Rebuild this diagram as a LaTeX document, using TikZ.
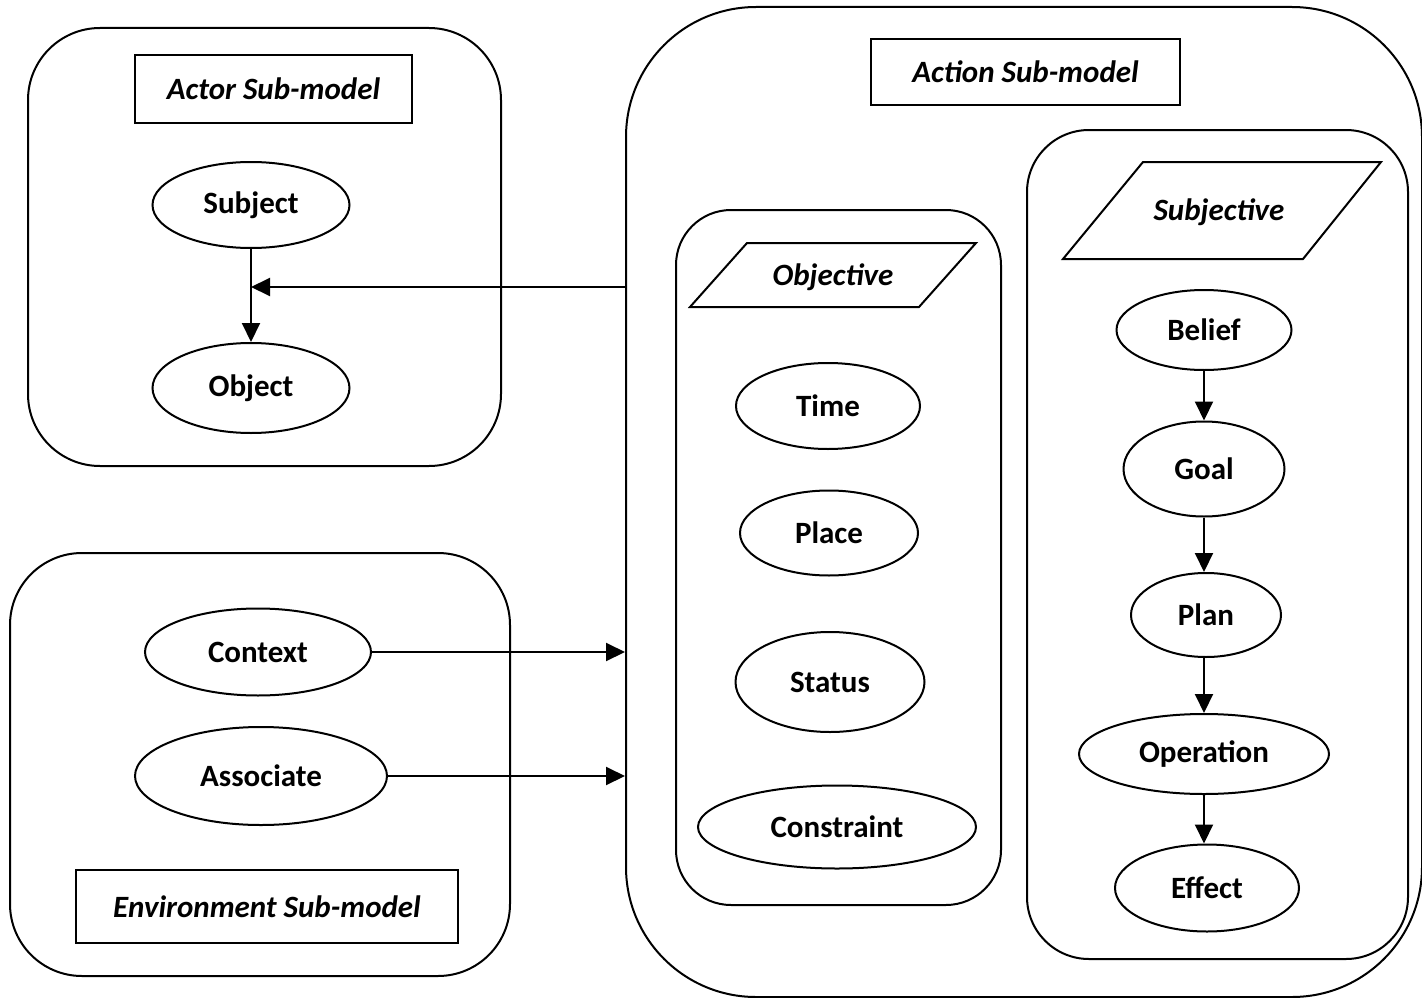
\documentclass[tikz,border=0pt]{standalone}
\usepackage{fontspec}
\setmainfont{Carlito}
\usetikzlibrary{arrows.meta,shapes.geometric}
\begin{document}
\begin{tikzpicture}[x=1pt,y=-1pt,
  line width=2pt,
  every node/.style={font=\fontsize{31}{36}\selectfont\bfseries, inner sep=0pt},
  container/.style={draw, rounded corners=#1},
  container/.default=70pt,
  titlebox/.style={draw, rectangle, font=\fontsize{31}{36}\selectfont\bfseries\itshape},
  item/.style={draw, ellipse},
  category/.style={font=\fontsize{31}{36}\selectfont\bfseries\itshape},
  flow/.style={-{Triangle[length=19pt,width=18pt]}}
]
\useasboundingbox (0,0) rectangle (1422,998);

% Actor sub-model
\node[container=72pt, minimum width=473pt, minimum height=438pt] (actor) at (264.5,247) {};
\node[titlebox, minimum width=277pt, minimum height=68pt] (actorT) at (273.5,89) {Actor Sub-model};
\node[item, minimum width=197pt, minimum height=86pt] (subj) at (251,205) {Subject};
\node[item, minimum width=197pt, minimum height=90pt] (obj) at (251,388) {Object};

% Environment sub-model
\node[container=72pt, minimum width=500pt, minimum height=423pt] (env) at (260,764.5) {};
\node[item, minimum width=226pt, minimum height=87pt] (ctx) at (258,652) {Context};
\node[item, minimum width=252pt, minimum height=98pt] (assoc) at (261,776) {Associate};
\node[titlebox, minimum width=382pt, minimum height=73pt] (envT) at (267,906.5) {Environment Sub-model};

% Action sub-model
\node[container=130pt, minimum width=796pt, minimum height=990pt] (action) at (1024,502) {};
\node[titlebox, minimum width=309pt, minimum height=66pt] (actionT) at (1025.5,72) {Action Sub-model};

% Objective part
\node[container=55pt, minimum width=325pt, minimum height=695pt] (objbox) at (838.5,557.5) {};
\node[category] (objective) at (833,277) {Objective};
\draw[shift={(833,275)}] (-86,-32) -- (143,-32) -- (86,32) -- (-143,32) -- cycle;
\node[item, minimum width=184pt, minimum height=86pt] (time) at (828,406) {Time};
\node[item, minimum width=178pt, minimum height=85pt] (place) at (829,533) {Place};
\node[item, minimum width=189pt, minimum height=100pt] (status) at (830,682) {Status};
\node[item, minimum width=278pt, minimum height=83pt] (constr) at (837,827) {Constraint};

% Subjective part
\node[container=62pt, minimum width=381pt, minimum height=829pt] (subbox) at (1217.5,544.5) {};
\node[category] (subjective) at (1219,212) {Subjective};
\draw[shift={(1222.5,210.5)}] (-79.5,-48.5) -- (158.5,-48.5) -- (80.5,48.5) -- (-159.5,48.5) -- cycle;
\node[item, minimum width=175pt, minimum height=80pt] (belief) at (1204,330) {Belief};
\node[item, minimum width=161pt, minimum height=95pt] (goal) at (1204,469) {Goal};
\node[item, minimum width=150pt, minimum height=84pt] (plan) at (1206,615) {Plan};
\node[item, minimum width=250pt, minimum height=80pt] (oper) at (1204,754) {Operation};
\node[item, minimum width=184pt, minimum height=87pt] (effect) at (1207,888) {Effect};

% Connectors
\draw[flow] (subj) -- (obj);
\coordinate (hit) at (251,287);
\draw[flow] (action.west |- hit) -- (hit);
\draw[flow] (ctx.east) -- (action.west |- ctx.east);
\draw[flow] (assoc.east) -- (action.west |- assoc.east);
\draw[flow] (belief.south) -- (belief.south |- goal.north);
\draw[flow] (goal.south) -- (goal.south |- plan.north);
\draw[flow] (plan.south -| goal.south) -- (goal.south |- oper.north);
\draw[flow] (oper.south) -- (oper.south |- effect.north);
\end{tikzpicture}
\end{document}
